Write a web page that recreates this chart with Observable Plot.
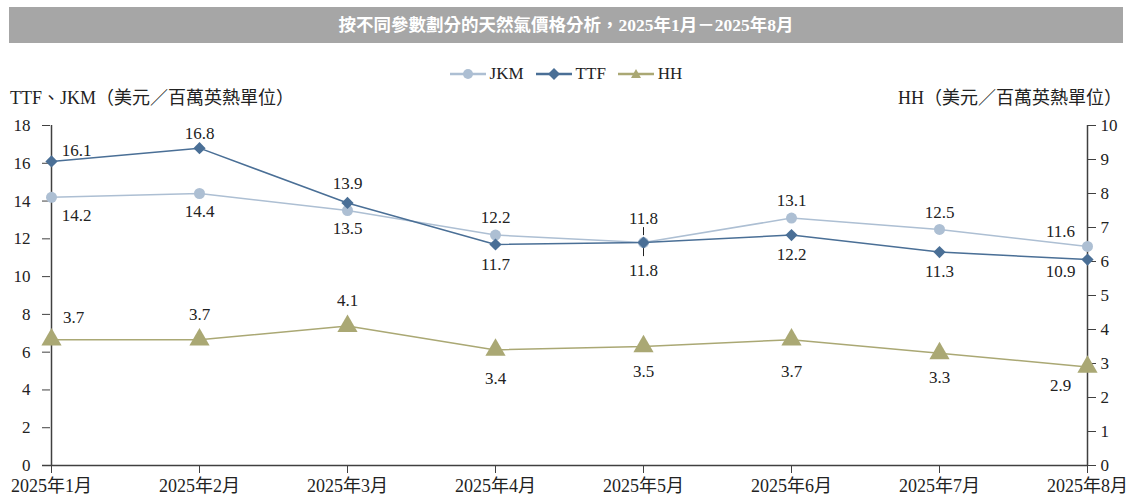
<!DOCTYPE html>
<html>
<head>
<meta charset="utf-8">
<script src="https://cdn.jsdelivr.net/npm/d3@7"></script>
<script src="https://cdn.jsdelivr.net/npm/@observablehq/plot@0.6"></script>
<style>
  body { margin: 0; background: #fff; font-family: "Liberation Serif", "Noto Sans CJK TC", serif; }
  #wrap { position: relative; width: 1132px; height: 499px; overflow: hidden; }
  #title { position: absolute; left: 9px; top: 7px; width: 1114px; height: 36px; background: #a6a6a6;
           color: #fff; font-weight: bold; font-size: 17.5px; line-height: 36px; text-align: center;
           font-family: "Liberation Serif", "Noto Sans CJK TC", serif; }
  #legend { position: absolute; left: 0; top: 64px; width: 1132px; text-align: center; font-size: 17px; color: #222; }
  #legend span.item { display: inline-flex; align-items: center; margin: 0 6px; }
  #legend svg { margin-right: 4px; }
  .axt { position: absolute; top: 83px; font-size: 18px; color: #222; white-space: nowrap; }
  #chart { position: absolute; left: 0; top: 110px; }
</style>
</head>
<body>
<div id="wrap">
  <div id="title">按不同參數劃分的天然氣價格分析，2025年1月－2025年8月</div>
  <div id="legend"></div>
  <div class="axt" style="left:10px">TTF、JKM（美元／百萬英熱單位）</div>
  <div class="axt" style="right:10px">HH（美元／百萬英熱單位）</div>
  <div id="chart"></div>
</div>
<script>
const months = ["2025年1月","2025年2月","2025年3月","2025年4月","2025年5月","2025年6月","2025年7月","2025年8月"];
const jkm = [14.2, 14.4, 13.5, 12.2, 11.8, 13.1, 12.5, 11.6];
const ttf = [16.1, 16.8, 13.9, 11.7, 11.8, 12.2, 11.3, 10.9];
const hh  = [3.7, 3.7, 4.1, 3.4, 3.5, 3.7, 3.3, 2.9];
const leftTicks = [0, 2, 4, 6, 8, 10, 12, 14, 16, 18];
const rightTicks = [0, 1, 2, 3, 4, 5, 6, 7, 8, 9, 10];

const colors = { JKM: "#adbfd3", TTF: "#4a6f96", HH: "#aaa874" };
const RATIO = 18 / 10; // right axis (0-10) mapped onto left axis (0-18)

// label offsets [dx, dy] per series per month
const offsets = {
  TTF: [[25,-11],[0,-15],[0,-19],[0,20],[0,28],[0,19],[0,19],[-27,12]],
  JKM: [[25,18],[0,18],[0,18],[0,-18],[0,-24],[0,-18],[0,-17],[-27,-15]],
  HH:  [[22,-22],[0,-25],[0,-26],[0,29],[0,25],[0,32],[0,24],[-27,19]]
};

const jkmData = months.map((m, i) => ({ month: m, v: jkm[i], label: jkm[i].toFixed(1) }));
const ttfData = months.map((m, i) => ({ month: m, v: ttf[i], label: ttf[i].toFixed(1) }));
const hhData  = months.map((m, i) => ({ month: m, v: hh[i] * RATIO, label: hh[i].toFixed(1) }));

const FONT = '"Liberation Serif", "Noto Sans CJK TC", serif';
const textMarks = [];
for (const [name, data] of [["JKM", jkmData], ["TTF", ttfData], ["HH", hhData]]) {
  data.forEach((d, i) => {
    const [dx, dy] = offsets[name][i];
    textMarks.push(Plot.text([d], { x: "month", y: "v", text: "label", dx, dy,
      fontSize: 17, fill: "#222", fontFamily: FONT }));
  });
}

// leader ticks for overlapping May labels
const may = [ttfData[4]];

const axisColor = "#404040";
const chart = Plot.plot({
  width: 1132,
  height: 389,
  marginTop: 15,
  marginBottom: 34,
  marginLeft: 50,
  marginRight: 45,
  style: { fontFamily: FONT, fontSize: "17px", color: "#222", background: "transparent" },
  x: { type: "point", domain: months, padding: 0, label: null },
  y: { domain: [0, 18], label: null },
  marks: [
    Plot.axisY(leftTicks, { anchor: "left", tickSize: 8, tickPadding: 12, fontSize: 17, stroke: axisColor, label: null }),
    Plot.axisY(rightTicks.map(t => t * RATIO), { anchor: "right", tickSize: 8, tickPadding: 5, fontSize: 17, stroke: axisColor,
      tickFormat: d => String(Math.round(d / RATIO)), label: null }),
    Plot.axisX({ anchor: "bottom", tickSize: 8, tickPadding: 6, fontSize: 18, stroke: axisColor, label: null, fontFamily: FONT }),
    Plot.ruleX([months[0], months[months.length - 1]], { stroke: axisColor, strokeWidth: 1.5 }),
    Plot.ruleY([0], { stroke: axisColor, strokeWidth: 1.5, insetLeft: -8 }),
    Plot.line(hhData, { x: "month", y: "v", stroke: colors.HH, strokeWidth: 1.5 }),
    Plot.line(jkmData, { x: "month", y: "v", stroke: colors.JKM, strokeWidth: 1.5 }),
    Plot.line(ttfData, { x: "month", y: "v", stroke: colors.TTF, strokeWidth: 1.5 }),
    Plot.dot(hhData, { x: "month", y: "v", symbol: "triangle", r: 7.5, fill: colors.HH }),
    Plot.dot(jkmData, { x: "month", y: "v", symbol: "circle", r: 5.5, fill: colors.JKM }),
    Plot.dot(ttfData, { x: "month", y: "v", symbol: "diamond2", r: 5.5, fill: colors.TTF }),
    Plot.ruleX(may, { x: "month", y1: "v", y2: "v", dy: -11, insetTop: -4, insetBottom: -4, stroke: "#222", strokeWidth: 1 }),
    Plot.ruleX(may, { x: "month", y1: "v", y2: "v", dy: 10, insetTop: -4, insetBottom: -4, stroke: "#222", strokeWidth: 1 }),
    ...textMarks
  ]
});
document.getElementById("chart").appendChild(chart);

// legend
const legend = document.getElementById("legend");
const shapes = {
  JKM: `<circle cx="18" cy="8" r="5" fill="${colors.JKM}"/>`,
  TTF: `<path d="M18 2 L24 8 L18 14 L12 8 Z" fill="${colors.TTF}"/>`,
  HH: `<path d="M18 3 L23 12 L13 12 Z" fill="${colors.HH}"/>`
};
for (const name of ["JKM", "TTF", "HH"]) {
  const span = document.createElement("span");
  span.className = "item";
  span.innerHTML = `<svg width="36" height="16"><line x1="0" y1="8" x2="36" y2="8" stroke="${colors[name]}" stroke-width="2.5"/>${shapes[name]}</svg>${name}`;
  legend.appendChild(span);
}
</script>
</body>
</html>
